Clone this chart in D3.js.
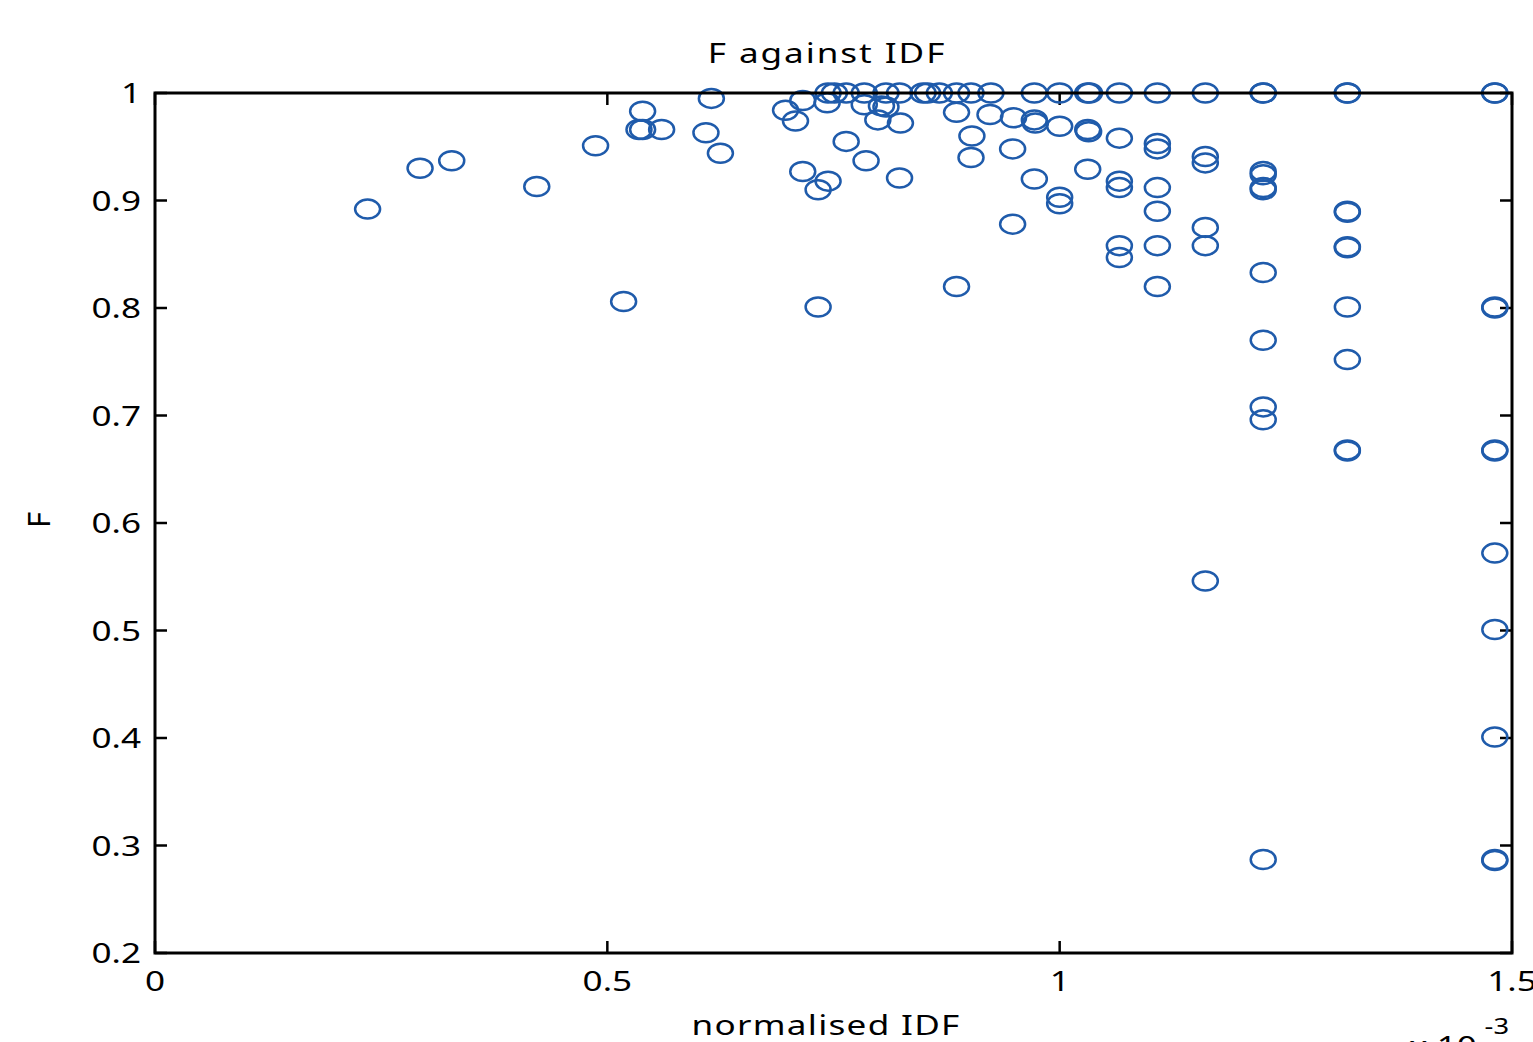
<!DOCTYPE html>
<html><head><meta charset="utf-8">
<script src="https://cdn.jsdelivr.net/npm/d3@7"></script>
<style>body{margin:0;background:#fff}svg text{font-family:"Noto Sans","Open Sans",sans-serif;fill:#000}</style>
</head><body><svg id="c" width="1533" height="1042"></svg>
<script>
// normalised IDF (x 10^-3) and F values
const idf = [
 0.744,0.751,0.764,0.784,0.808,0.823,0.849,0.854,0.867,0.886,0.902,0.924,0.972,1.0,1.031,1.033,1.066,1.108,1.161,1.225,1.225,1.318,1.318,1.481,1.481,
 0.235,0.293,0.328,0.422,0.487,0.518,0.539,0.535,0.539,0.560,0.609,0.615,0.625,
 0.697,0.708,0.716,0.716,0.733,0.733,0.743,0.744,0.764,0.786,0.784,0.799,0.803,0.808,0.824,0.823,
 0.886,0.886,0.903,0.902,0.923,0.948,0.948,0.949,0.972,0.973,0.972,
 1.0,1.0,1.0,1.031,1.032,1.031,
 1.066,1.066,1.066,1.066,1.066,
 1.108,1.108,1.108,1.108,1.108,1.108,
 1.161,1.161,1.161,1.161,1.161,
 1.225,1.225,1.225,1.225,1.225,1.225,1.225,1.225,1.225,
 1.318,1.318,1.318,1.318,1.318,1.318,1.318,1.318,
 1.481,1.481,1.481,1.481,1.481,1.481,1.481,1.481,1.481
];
const fVal = [
 1,1,1,1,1,1,1,1,1,1,1,1,1,1,1,1,1,1,1,1,1,1,1,1,1,
 0.892,0.930,0.937,0.913,0.951,0.806,0.983,0.966,0.966,0.966,0.963,0.995,0.944,
 0.984,0.974,0.993,0.927,0.910,0.801,0.991,0.918,0.955,0.937,0.989,0.975,0.988,0.987,0.972,0.921,
 0.820,0.982,0.960,0.940,0.980,0.948,0.878,0.977,0.975,0.972,0.920,
 0.969,0.903,0.897,0.966,0.964,0.929,
 0.958,0.918,0.912,0.858,0.847,
 0.953,0.948,0.912,0.890,0.858,0.820,
 0.941,0.935,0.875,0.858,0.546,
 0.927,0.924,0.912,0.910,0.833,0.770,0.708,0.696,0.287,
 0.890,0.889,0.857,0.856,0.801,0.752,0.668,0.667,
 0.801,0.800,0.668,0.667,0.572,0.501,0.401,0.287,0.286
];
const xTicks = [0, 0.5, 1, 1.5];
const yTicks = [0.2,0.3,0.4,0.5,0.6,0.7,0.8,0.9,1];

const L=155, R=1512, T=93, B=953, SX=1.3, FS=27;
const svg = d3.select("#c");
const x = d3.scaleLinear().domain([0,1.5]).range([L,R]);
const y = d3.scaleLinear().domain([0.2,1]).range([B,T]);
const fmt = d => String(d);

function label(px, py, txt, anchor, extra){
  return svg.append("text")
    .attr("transform",`translate(${px},${py}) scale(${SX},1)${extra||""}`)
    .attr("text-anchor",anchor).attr("font-size",FS).text(txt);
}

// ticks (inner, all four sides)
const tl = 12;
const g = svg.append("g").attr("stroke","#000").attr("stroke-width",2.5);
xTicks.forEach(t=>{
  g.append("line").attr("x1",x(t)).attr("x2",x(t)).attr("y1",B).attr("y2",B-tl);
  g.append("line").attr("x1",x(t)).attr("x2",x(t)).attr("y1",T).attr("y2",T+tl);
});
yTicks.forEach(t=>{
  g.append("line").attr("x1",L).attr("x2",L+tl).attr("y1",y(t)).attr("y2",y(t));
  g.append("line").attr("x1",R).attr("x2",R-tl).attr("y1",y(t)).attr("y2",y(t));
});

// points
svg.append("g").selectAll("ellipse").data(idf.map((v,i)=>[v,fVal[i]])).join("ellipse")
  .attr("cx",d=>x(d[0])).attr("cy",d=>y(d[1])).attr("rx",12.5).attr("ry",9.5)
  .attr("fill","none").attr("stroke","#1f5bab").attr("stroke-width",2.5);

// frame
svg.append("rect").attr("x",L).attr("y",T).attr("width",R-L).attr("height",B-T)
  .attr("fill","none").attr("stroke","#000").attr("stroke-width",3);

// tick labels
xTicks.forEach(t=>label(x(t), B+38, fmt(t), "middle"));
yTicks.forEach(t=>label(L-14, y(t)+10, fmt(t), "end"));

// titles
label(827, 63, "F against IDF", "middle").attr("letter-spacing",1.5);
label(826, 1035, "normalised IDF", "middle").attr("letter-spacing",1);
svg.append("text").attr("transform","translate(50,520) rotate(-90)")
  .attr("text-anchor","middle").attr("font-size",FS*1.15).text("F");
const ex = svg.append("text").attr("transform",`translate(1409,1056) scale(${SX},1)`).attr("font-size",FS);
ex.append("tspan").text("x 10");
ex.append("tspan").attr("dx",6).attr("dy",-22).attr("font-size",21).text("-3");
</script></body></html>
